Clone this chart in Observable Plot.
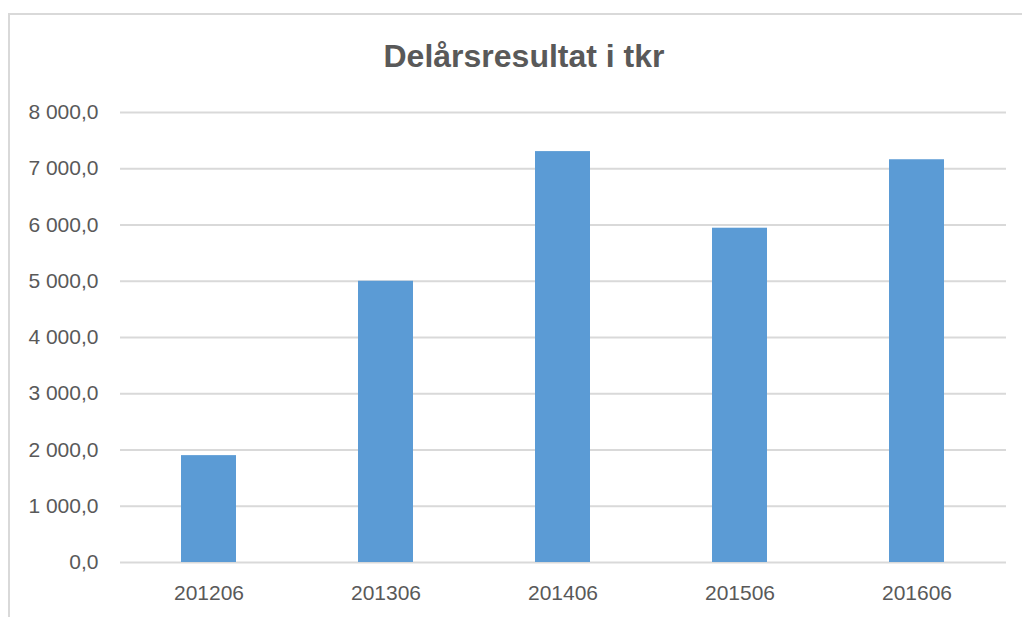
<!DOCTYPE html>
<html>
<head>
<meta charset="utf-8">
<script src="https://cdn.jsdelivr.net/npm/d3@7"></script>
<script src="https://cdn.jsdelivr.net/npm/@observablehq/plot@0.6"></script>
<style>
  html, body { margin: 0; padding: 0; background: #fff; }
  #wrap { position: relative; width: 1022px; height: 617px; overflow: hidden; background: #fff;
          font-family: "Liberation Sans", Arial, sans-serif; }
  #frame { position: absolute; left: 8px; top: 13px; width: 1100px; height: 700px;
           border-left: 2px solid #d9d9d9; border-top: 2px solid #d9d9d9; box-sizing: border-box; z-index: 2; pointer-events: none; }
  #title { position: absolute; top: 40px; left: 0; width: 1048px; text-align: center;
           font-size: 32px; line-height: 32px; font-weight: bold; color: #595959; }
  #chart { position: absolute; left: 0; top: 90px; }
  #chart svg { background: transparent !important; }
</style>
</head>
<body>
<div id="wrap">
  <div id="frame"></div>
  <div id="title">Delårsresultat i tkr</div>
  <div id="chart"></div>
</div>
<script>
const periods = ["201206", "201306", "201406", "201506", "201606"];
const values = [1900, 5000, 7305, 5943, 7160];
const yTicks = [0, 1000, 2000, 3000, 4000, 5000, 6000, 7000, 8000];

const data = periods.map((p, i) => ({period: p, value: values[i]}));
const sv = d3.formatLocale({decimal: ",", thousands: " ", grouping: [3], currency: ["", " kr"]});
const fmt = sv.format(",.1f");

const chart = Plot.plot({
  width: 1022,
  height: 527,
  marginTop: 22,
  marginBottom: 55,
  marginLeft: 120,
  marginRight: 16,
  style: {fontFamily: "'Liberation Sans', Arial, sans-serif", fontSize: "21px", color: "#595959", background: "transparent"},
  x: {domain: periods, paddingInner: 0.687, paddingOuter: 0.3435, label: null},
  y: {domain: [0, 8000], label: null},
  marks: [
    Plot.gridY(yTicks, {stroke: "#d9d9d9", strokeOpacity: 1, strokeWidth: 2}),
    Plot.barY(data, {x: "period", y: "value", fill: "#5b9bd5"}),
    Plot.axisY(yTicks, {tickFormat: fmt, tickSize: 0, tickPadding: 22, fontSize: 21, fill: "#595959", label: null}),
    Plot.axisX({tickSize: 0, tickPadding: 23, fontSize: 21, fill: "#595959", label: null})
  ]
});
document.getElementById("chart").appendChild(chart);
</script>
</body>
</html>
